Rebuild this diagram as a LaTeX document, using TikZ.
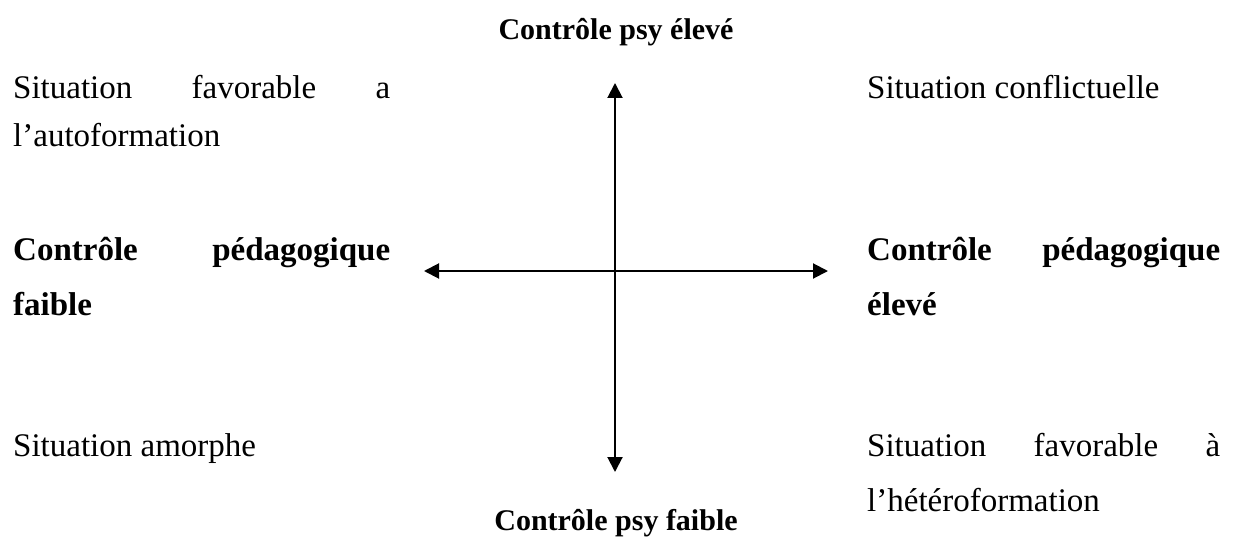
\documentclass[tikz,border=0pt]{standalone}
\usepackage{fontspec}
\setmainfont{Liberation Serif}
\usetikzlibrary{arrows.meta}
\tikzset{
  lbl/.style={inner sep=0pt, font=\fontsize{33}{40}\selectfont},
  blbl/.style={inner sep=0pt, font=\fontsize{33}{40}\selectfont\bfseries},
  tlbl/.style={inner sep=0pt, font=\fontsize{30}{36}\selectfont\bfseries},
  axis/.style={line width=2pt, {Triangle[length=15pt,width=15pt]}-{Triangle[length=15pt,width=15pt]}}
}
\begin{document}
\begin{tikzpicture}[x=1pt,y=-1pt]
\useasboundingbox (0,0) rectangle (1234,540);
% axes
\coordinate (top) at (615,83);
\coordinate (bot) at (615,472);
\coordinate (lft) at (424,271);
\coordinate (rgt) at (828,271);
\draw[axis] (top) -- (bot);
\draw[axis] (lft) -- (rgt);
% titles
\node[tlbl, anchor=base] (tt) at (616,40) {Contrôle psy élevé};
\node[tlbl, anchor=base] (bt) at (616,530) {Contrôle psy faible};
% left
\node[lbl, anchor=base west] (l1) at (13,99) {\hbox to 377pt{Situation\hfill favorable\hfill a}};
\node[lbl, anchor=base west] (l2) at (13,147) {l’autoformation};
\node[blbl, anchor=base west] (l3) at (13,260) {\hbox to 377pt{Contrôle\hfill pédagogique}};
\node[blbl, anchor=base west] (l4) at (13,315) {faible};
\node[lbl, anchor=base west] (l5) at (13,456) {Situation amorphe};
% right
\node[lbl, anchor=base west] (r1) at (867,99) {Situation conflictuelle};
\node[blbl, anchor=base west] (r3) at (867,260) {\hbox to 353pt{Contrôle\hfill pédagogique}};
\node[blbl, anchor=base west] (r4) at (867,315) {élevé};
\node[lbl, anchor=base west] (r5) at (867,456) {\hbox to 353pt{Situation\hfill favorable\hfill à}};
\node[lbl, anchor=base west] (r6) at (867,511) {l’hétéroformation};
\end{tikzpicture}
\end{document}
